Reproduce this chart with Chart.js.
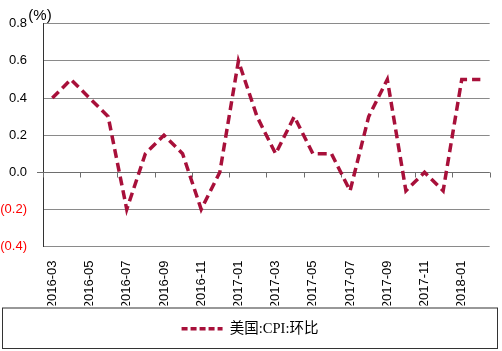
<!DOCTYPE html>
<html>
<head>
<meta charset="utf-8">
<script src="https://cdn.jsdelivr.net/npm/chart.js@4"></script>
<style>
  html, body { margin: 0; padding: 0; background: #fff; }
  #wrap { width: 502px; height: 351px; }
</style>
</head>
<body>
<div id="wrap"><canvas id="myChart" width="502" height="351"></canvas></div>
<script>
// 美国 CPI 环比, monthly
var months = ['2016-03','2016-04','2016-05','2016-06','2016-07','2016-08','2016-09','2016-10','2016-11','2016-12',
              '2017-01','2017-02','2017-03','2017-04','2017-05','2017-06','2017-07','2017-08','2017-09','2017-10',
              '2017-11','2017-12','2018-01','2018-02'];
var cpiMoM = [0.4, 0.5, 0.4, 0.3, -0.2, 0.1, 0.2, 0.1, -0.2, 0.0,
              0.6, 0.3, 0.1, 0.3, 0.1, 0.1, -0.1, 0.3, 0.5, -0.1,
              0.0, -0.1, 0.5, 0.5];
var seriesName = '美国:CPI:环比';
var yMin = -0.4, yMax = 0.8, yStep = 0.2;

var lineColor = '#A8103A';

// zero axis line with tick marks every two months, plus the (%) unit and legend frame
var extras = {
    id: 'extras',
    beforeDatasetsDraw: function(chart) {
        var c = chart.ctx, xs = chart.scales.x, ys = chart.scales.y;
        var y0 = Math.round(ys.getPixelForValue(0)) + 0.5;
        c.save();
        c.strokeStyle = '#6e6e6e';
        c.lineWidth = 1;
        c.beginPath();
        c.moveTo(chart.chartArea.left - 6, y0);
        c.lineTo(chart.chartArea.right, y0);
        for (var i = 0; i <= months.length; i += 2) {
            var px;
            if (i == 0) px = chart.chartArea.left;
            else if (i == months.length) px = chart.chartArea.right;
            else px = (xs.getPixelForValue(i - 1) + xs.getPixelForValue(i)) / 2;
            px = Math.round(px) + 0.5;
            c.moveTo(px, y0);
            c.lineTo(px, y0 + 5);
        }
        c.stroke();
        c.restore();
    },
    afterDraw: function(chart) {
        var c = chart.ctx, lg = chart.legend;
        c.save();
        c.fillStyle = '#000';
        c.font = '15px "Liberation Sans", Arial, sans-serif';
        c.textAlign = 'center';
        c.textBaseline = 'middle';
        c.fillText('(%)', chart.chartArea.left - 3, chart.chartArea.top - 8);
        c.strokeStyle = '#333';
        c.lineWidth = 1;
        c.strokeRect(lg.left + 2.5, lg.top + 2.5, lg.width - 5, lg.height);
        c.restore();
    }
};

var ctx = document.getElementById('myChart').getContext('2d');
var chart = new Chart(ctx, {
    type: 'line',
    data: {
        labels: months,
        datasets: [{
            label: seriesName,
            data: cpiMoM,
            borderColor: lineColor,
            backgroundColor: lineColor,
            borderWidth: 3.5,
            borderDash: [9, 5],
            pointRadius: 0,
            pointStyle: 'line',
            tension: 0,
            fill: false
        }]
    },
    options: {
        responsive: false,
        animation: false,
        events: [],
        layout: { padding: { top: 17, right: 2, bottom: 5, left: 0 } },
        plugins: {
            legend: {
                position: 'bottom',
                labels: {
                    usePointStyle: true,
                    pointStyle: 'line',
                    pointStyleWidth: 41,
                    padding: 16,
                    color: '#000',
                    font: { family: '"Liberation Serif", "Noto Sans CJK SC", serif', size: 14.5 },
                    generateLabels: function(ch) {
                        var items = Chart.defaults.plugins.legend.labels.generateLabels(ch);
                        items.forEach(function(it) {
                            it.lineDash = [6, 3];
                            it.lineWidth = 3.5;
                            it.strokeStyle = lineColor;
                        });
                        return items;
                    }
                }
            },
            tooltip: { enabled: false }
        },
        scales: {
            x: {
                offset: true,
                grid: { display: false },
                border: { display: false },
                ticks: {
                    autoSkip: false,
                    minRotation: 90,
                    maxRotation: 90,
                    padding: 6,
                    color: '#000',
                    font: { family: '"Liberation Sans", Arial, sans-serif', size: 13 },
                    callback: function(v, i) { return i % 2 == 0 ? months[i] : ''; }
                },
                afterFit: function(s) { s.height = 59; }
            },
            y: {
                min: yMin,
                max: yMax,
                grid: { color: '#8a8a8a', tickLength: 0 },
                border: { display: true, color: '#333' },
                ticks: {
                    stepSize: yStep,
                    padding: 16,
                    font: { family: '"Liberation Sans", Arial, sans-serif', size: 13 },
                    color: function(c) { return c.tick.value < -1e-9 ? '#ff0000' : '#000'; },
                    callback: function(v) {
                        var t = Math.abs(v).toFixed(1);
                        return v < -1e-9 ? '(' + t + ')' : t;
                    }
                },
                afterFit: function(s) { s.width = 43; }
            }
        }
    },
    plugins: [extras]
});
</script>
</body>
</html>
